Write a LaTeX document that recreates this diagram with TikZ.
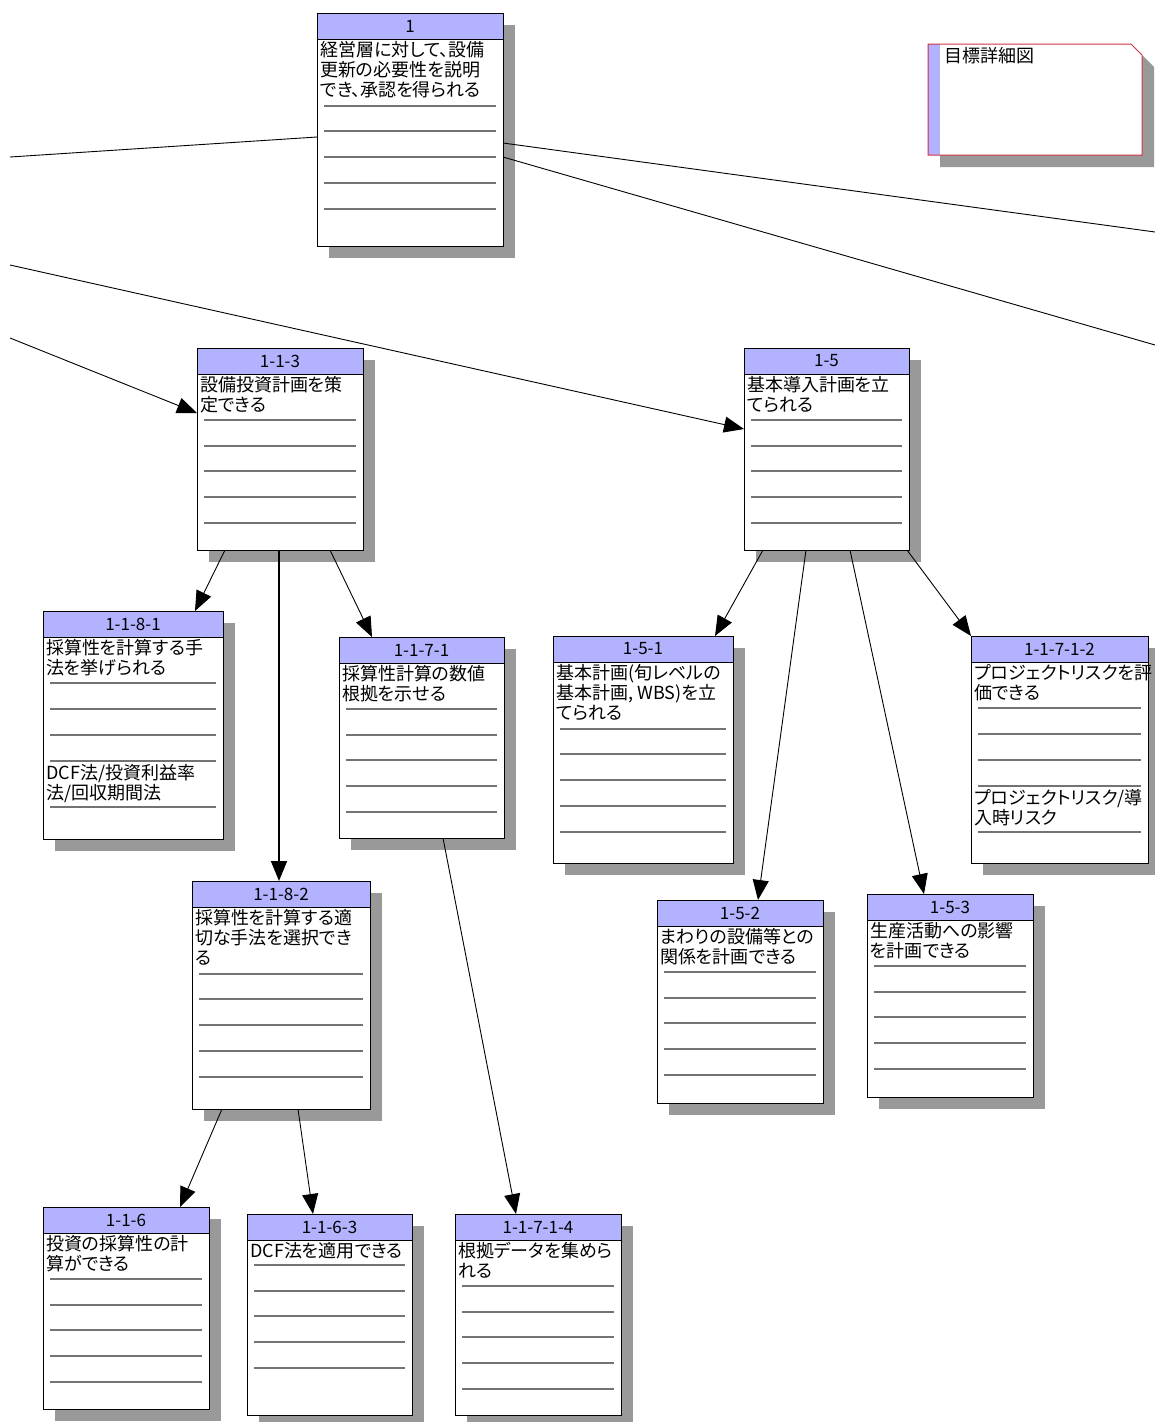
\documentclass[tikz,border=0pt]{standalone}
\usepackage{fontspec}
\setmainfont{Noto Sans CJK JP}[RawFeature=+palt]
\usetikzlibrary{arrows.meta,shadows,calc}
\definecolor{headblue}{RGB}{178,178,255}
\definecolor{shadegray}{RGB}{153,153,153}
\definecolor{rulegray}{RGB}{115,115,115}
\definecolor{notered}{RGB}{204,51,68}

% card: name, left, top, width, height, number, text, rule offsets
\newcommand\goalcard[8]{%
  \node[card, minimum width=#4pt, minimum height=#5pt] (#1) at (#2,#3) {};
  \fill[headblue] (#1.north west) rectangle ([yshift=-26pt]#1.north east);
  \draw[frame] ([yshift=-26pt]#1.north west) -- ([yshift=-26pt]#1.north east);
  \draw[frame] (#1.north west) rectangle (#1.south east);
  \node[numtext] (#1-num) at ([yshift=-13pt]#1.north) {#6};
  \node[bodytext] (#1-txt) at ([xshift=3pt,yshift=-28pt]#1.north west) {#7};
  \foreach \ly in {#8}
    \draw[rule] ($(#1.north west)+(7,\ly)$) -- ($(#1.north east)+(-7,\ly)$);
}

\begin{document}
\begin{tikzpicture}[
        x=1pt, y=-1pt,
        card/.style={fill=white, inner sep=0pt, outer sep=0pt, anchor=north west,
            drop shadow={shadow xshift=12pt, shadow yshift=-12pt, fill=shadegray, opacity=1}},
        frame/.style={line width=1pt},
        rule/.style={rulegray, line width=1.1pt},
        numtext/.style={inner sep=0pt, font=\fontsize{17}{19}\selectfont},
        bodytext/.style={anchor=north west, inner sep=0pt, align=left, font=\fontsize{18}{20}\selectfont},
        link/.style={line width=0.9pt, -{Triangle[length=20pt, width=16pt]}},
        plain/.style={line width=0.9pt},
    ]
    \useasboundingbox[fill=white] (0,0) rectangle (1155,1422);

    % cards
    \goalcard{n1}{317}{13}{186}{233}{1}{経営層に対して、設備\\更新の必要性を説明\\でき、承認を得られる}{93,118,144,170,196}
    \goalcard{n113}{197}{348}{166}{202}{1-1-3}{設備投資計画を策\\定できる}{72,98,123,149,175}
    \goalcard{n15}{744}{348}{165}{202}{1-5}{基本導入計画を立\\てられる}{72,98,123,149,175}
    \goalcard{n1181}{43}{611}{180}{228}{1-1-8-1}{採算性を計算する手\\法を挙げられる}{72,98,124,150,196}
    \goalcard{n1171}{339}{637}{165}{201}{1-1-7-1}{採算性計算の数値\\根拠を示せる}{72,98,123,149,175}
    \goalcard{n151}{553}{636}{180}{227}{1-5-1}{基本計画(旬レベルの\\基本計画, WBS)を立\\てられる}{93,118,144,170,196}
    \goalcard{n11712}{971}{636}{177}{227}{1-1-7-1-2}{プロジェクトリスクを評\\価できる}{72,98,124,150,196}
    \goalcard{n1182}{192}{881}{178}{228}{1-1-8-2}{採算性を計算する適\\切な手法を選択でき\\る}{93,118,144,170,196}
    \goalcard{n152}{657}{900}{166}{203}{1-5-2}{まわりの設備等との\\関係を計画できる}{72,98,123,149,175}
    \goalcard{n153}{867}{894}{166}{203}{1-5-3}{生産活動への影響\\を計画できる}{72,98,123,149,175}
    \goalcard{n116}{43}{1207}{166}{202}{1-1-6}{投資の採算性の計\\算ができる}{72,98,123,149,175}
    \goalcard{n1163}{247}{1214}{165}{201}{1-1-6-3}{DCF法を適用できる}{51,77,102,128,154}
    \goalcard{n11714}{455}{1214}{166}{201}{1-1-7-1-4}{根拠データを集めら\\れる}{72,98,123,149,175}

    \node[bodytext] (n1181-sub) at ([xshift=3pt,yshift=-153pt]n1181.north west) {DCF法/投資利益率\\法/回収期間法};
    \node[bodytext] (n11712-sub) at ([xshift=3pt,yshift=-153pt]n11712.north west) {プロジェクトリスク/導\\入時リスク};

    % note
    \fill[shadegray] (940,56) -- (1143,56) -- (1154,67) -- (1154,167) -- (940,167) -- cycle;
    \fill[white] (928,44) -- (1131,44) -- (1142,55) -- (1142,155) -- (928,155) -- cycle;
    \fill[headblue] (928,44) rectangle (940,155);
    \draw[notered, line width=1pt] (928,44) -- (1131,44) -- (1142,55) -- (1142,155) -- (928,155) -- cycle;
    \node[bodytext] (goal) at (944,47) {目標詳細図};

    % open ends
    \coordinate (offA) at (10,157);
    \coordinate (offB) at (1155,232);
    \coordinate (offC) at (1155,345);
    \coordinate (offD) at (10,265);
    \coordinate (offE) at (10,338);

    % links
    \draw[plain] ([yshift=-124pt]n1.north west) -- (offA);
    \draw[plain] ([yshift=-130pt]n1.north east) -- (offB);
    \draw[plain] ([yshift=-144pt]n1.north east) -- (offC);
    \draw[link] (offD) -- ([yshift=-81pt]n15.north west);
    \draw[link] (offE) -- ([yshift=-65pt]n113.north west);
    \draw[link] ([xshift=28pt]n113.south west) -- ([xshift=152pt]n1181.north west);
    \draw[link, line width=1.8pt] ([xshift=82pt]n113.south west) -- ([xshift=87pt]n1182.north west);
    \draw[link] ([xshift=133pt]n113.south west) -- ([xshift=33pt]n1171.north west);
    \draw[link] ([xshift=19pt]n15.south west) -- ([xshift=162pt]n151.north west);
    \draw[link] ([xshift=62pt]n15.south west) -- ([xshift=101pt]n152.north west);
    \draw[link] ([xshift=106pt]n15.south west) -- ([xshift=57pt]n153.north west);
    \draw[link] ([xshift=163pt]n15.south west) -- (n11712.north west);
    \draw[link] ([xshift=30pt]n1182.south west) -- ([xshift=137pt]n116.north west);
    \draw[link] ([xshift=106pt]n1182.south west) -- ([xshift=66pt]n1163.north west);
    \draw[link] ([xshift=104pt]n1171.south west) -- ([xshift=61pt]n11714.north west);

\end{tikzpicture}
\end{document}
